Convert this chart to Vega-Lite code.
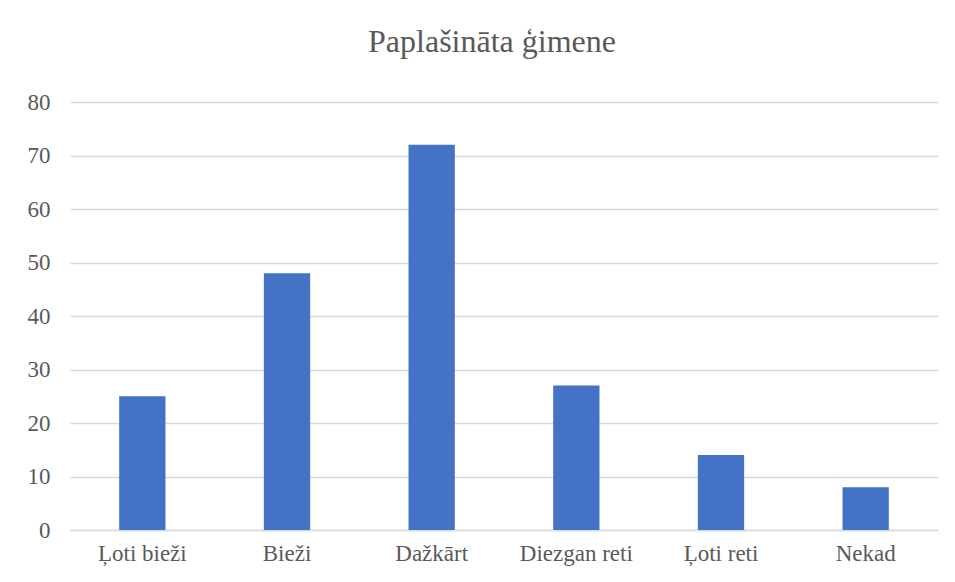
{
  "$schema": "https://vega.github.io/schema/vega-lite/v6.json",
  "autosize": "none",
  "width": 868,
  "height": 428,
  "padding": {"left": 70, "top": 102, "right": 17, "bottom": 52},
  "background": "white",
  "title": {
    "text": "Paplašināta ģimene",
    "font": "Liberation Serif",
    "fontSize": 32,
    "fontWeight": "normal",
    "color": "#595959",
    "anchor": "middle",
    "dx": -12,
    "offset": 32
  },
  "data": {
    "values": [
      {"category": "Ļoti bieži", "value": 25},
      {"category": "Bieži", "value": 48},
      {"category": "Dažkārt", "value": 72},
      {"category": "Diezgan reti", "value": 27},
      {"category": "Ļoti reti", "value": 14},
      {"category": "Nekad", "value": 8}
    ]
  },
  "mark": {"type": "bar", "color": "#4472C4"},
  "encoding": {
    "x": {
      "field": "category",
      "type": "nominal",
      "sort": null,
      "title": null,
      "scale": {"paddingInner": 0.68, "paddingOuter": 0.34},
      "axis": {
        "labelAngle": 0,
        "labelFont": "Liberation Serif",
        "labelFontSize": 23,
        "labelColor": "#595959",
        "labelPadding": 12,
        "ticks": false,
        "domain": true,
        "domainColor": "#d9d9d9",
        "domainWidth": 1.5,
        "grid": false
      }
    },
    "y": {
      "field": "value",
      "type": "quantitative",
      "title": null,
      "scale": {"domain": [0, 80]},
      "axis": {
        "values": [0, 10, 20, 30, 40, 50, 60, 70, 80],
        "labelFont": "Liberation Serif",
        "labelFontSize": 23,
        "labelColor": "#595959",
        "labelPadding": 20,
        "ticks": false,
        "domain": false,
        "grid": true,
        "gridColor": "#d9d9d9",
        "gridWidth": 1.5
      }
    }
  },
  "config": {"view": {"stroke": null}}
}
